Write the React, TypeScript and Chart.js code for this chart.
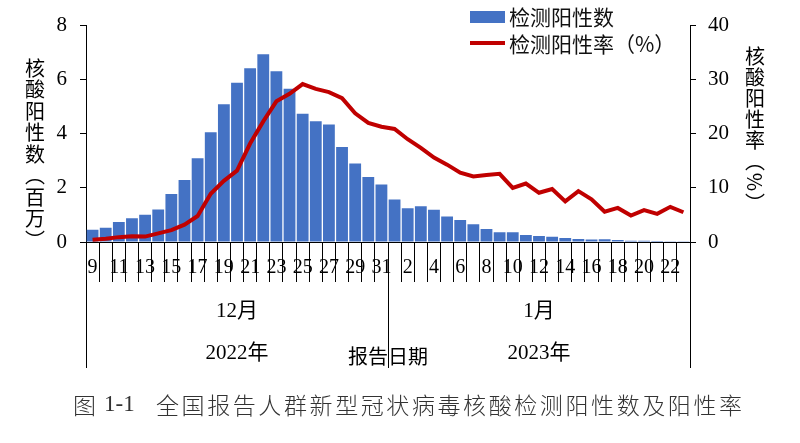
import React, { useEffect, useRef } from "react";
import { Chart, registerables } from "chart.js";

Chart.register(...registerables);

// Report dates: Dec 9–31 (2022), Jan 1–23 (2023)
const dayLabels: number[] = [
  9, 10, 11, 12, 13, 14, 15, 16, 17, 18, 19, 20, 21, 22, 23, 24, 25, 26, 27, 28, 29, 30, 31,
  1, 2, 3, 4, 5, 6, 7, 8, 9, 10, 11, 12, 13, 14, 15, 16, 17, 18, 19, 20, 21, 22, 23,
];

// 检测阳性数 (millions)
const positiveCounts: number[] = [
  0.45, 0.53, 0.74, 0.88, 1.01, 1.2, 1.77, 2.29, 3.1, 4.06, 5.09, 5.89, 6.42, 6.94, 6.31, 5.67, 4.74, 4.46, 4.34, 3.51, 2.9, 2.4, 2.13,
  1.57, 1.25, 1.32, 1.19, 0.94, 0.81, 0.66, 0.48, 0.36, 0.36, 0.26, 0.22, 0.19, 0.15, 0.11, 0.09, 0.1, 0.07, 0.05, 0.05, 0.04, 0.01, 0.01,
];

// 检测阳性率 (%)
const positiveRate: number[] = [
  0.4, 0.6, 0.9, 1.05, 1.0, 1.6, 2.2, 3.2, 4.8, 8.9, 11.3, 13.2, 18.2, 22.3, 26.0, 27.4, 29.2, 28.3, 27.7, 26.6, 23.8, 22.0, 21.3,
  20.9, 19.0, 17.4, 15.6, 14.3, 12.8, 12.1, 12.4, 12.6, 10.0, 10.8, 9.1, 9.8, 7.5, 9.4, 7.9, 5.6, 6.3, 4.9, 5.9, 5.2, 6.5, 5.5,
];

const leftTicks = { min: 0, max: 8, step: 2 };
const rightTicks = { min: 0, max: 40, step: 10 };

const seriesNames = ["检测阳性数", "检测阳性率（%）"];
const leftTitle = "核酸阳性数︵百万︶";
const rightTitle = "核酸阳性率︵%︶";
const monthLabels = ["12月", "1月"];
const yearLabels = ["2022年", "2023年"];
const axisTitle = "报告日期";
const captionHead = "图";
const captionNum = "1-1";
const captionBody = "全国报告人群新型冠状病毒核酸检测阳性数及阳性率";

const BAR_COLOR = "#4472C4";
const LINE_COLOR = "#C00000";
const SERIF = "'Liberation Serif', 'Noto Sans CJK SC', serif";
const SANS = "'Noto Sans CJK SC', 'Noto Sans', sans-serif";

const decorPlugin = {
  id: "decor",
  afterDraw(chart: any) {
    const ctx: CanvasRenderingContext2D = chart.ctx;
    const xs = chart.scales.x;
    const area = chart.chartArea;
    const step = xs.getPixelForValue(1) - xs.getPixelForValue(0);
    const split = xs.getPixelForValue(23) - step / 2;
    ctx.save();

    // long separator lines
    ctx.strokeStyle = "#000";
    ctx.lineWidth = 1;
    [area.left, split, area.right].forEach((px) => {
      const x = Math.round(px) + 0.5;
      ctx.beginPath();
      ctx.moveTo(x, area.bottom);
      ctx.lineTo(x, 368);
      ctx.stroke();
    });

    // month & year labels
    ctx.fillStyle = "#000";
    ctx.textAlign = "center";
    ctx.textBaseline = "middle";
    ctx.font = `21px ${SERIF}`;
    const c1 = (area.left + split) / 2;
    const c2 = (split + area.right) / 2;
    ctx.fillText(monthLabels[0], c1, 311);
    ctx.fillText(monthLabels[1], c2, 311);
    ctx.fillText(yearLabels[0], c1, 353);
    ctx.fillText(yearLabels[1], c2, 353);
    ctx.font = `20px ${SANS}`;
    ctx.fillText(axisTitle, split, 356);

    // vertical axis titles
    const drawVertical = (text: string, x: number, y0: number, pitch: number) => {
      ctx.font = `20px ${SANS}`;
      Array.from(text).forEach((ch, i) => {
        const y = y0 + i * pitch;
        if (ch === "%") {
          ctx.save();
          ctx.translate(x, y);
          ctx.rotate(Math.PI / 2);
          ctx.fillText(ch, 0, 0);
          ctx.restore();
        } else {
          ctx.fillText(ch, x, y);
        }
      });
    };
    drawVertical(leftTitle, 35, 68, 21.5);
    drawVertical(rightTitle, 755, 56, 21);

    // legend
    ctx.fillStyle = BAR_COLOR;
    ctx.fillRect(470, 11, 35, 12);
    ctx.strokeStyle = LINE_COLOR;
    ctx.lineWidth = 4;
    ctx.beginPath();
    ctx.moveTo(470, 43);
    ctx.lineTo(505, 43);
    ctx.stroke();
    ctx.fillStyle = "#111";
    ctx.textAlign = "left";
    ctx.font = `21px ${SANS}`;
    ctx.fillText(seriesNames[0], 509, 17);
    ctx.fillText(seriesNames[1], 509, 44);

    // caption
    ctx.fillStyle = "#333";
    ctx.font = `300 23px ${SANS}`;
    ctx.textAlign = "left";
    ctx.fillText(captionHead, 73, 405);
    ctx.font = `23px ${SERIF}`;
    ctx.fillText(captionNum, 104, 405);
    ctx.font = `300 23px ${SANS}`;
    const chars = Array.from(captionBody);
    const startX = 156;
    const endX = 742;
    const w = ctx.measureText("国").width;
    const pitch = (endX - startX - w) / (chars.length - 1);
    chars.forEach((ch, i) => ctx.fillText(ch, startX + i * pitch, 405));

    ctx.restore();
  },
};

export default function App() {
  const canvasRef = useRef<HTMLCanvasElement | null>(null);

  useEffect(() => {
    if (!canvasRef.current) return;
    const chart = new Chart(canvasRef.current, {
      type: "bar",
      data: {
        labels: dayLabels.map(String),
        datasets: [
          {
            type: "line",
            label: seriesNames[1],
            data: positiveRate,
            yAxisID: "y1",
            borderColor: LINE_COLOR,
            backgroundColor: LINE_COLOR,
            borderWidth: 4,
            pointRadius: 0,
            tension: 0,
            order: 0,
          } as any,
          {
            type: "bar",
            label: seriesNames[0],
            data: positiveCounts,
            yAxisID: "y",
            backgroundColor: BAR_COLOR,
            barPercentage: 0.9,
            categoryPercentage: 1,
            order: 1,
          },
        ],
      },
      options: {
        responsive: false,
        animation: false,
        devicePixelRatio: 1,
        layout: { padding: { top: 16, left: 0, right: 0, bottom: 0 } },
        plugins: { legend: { display: false }, tooltip: { enabled: false } },
        scales: {
          x: {
            offset: true,
            grid: {
              display: true,
              drawOnChartArea: false,
              drawTicks: true,
              tickLength: 40,
              offset: true,
              color: "#000",
            },
            border: { display: true, color: "#000" },
            ticks: {
              autoSkip: false,
              maxRotation: 0,
              minRotation: 0,
              padding: -26,
              color: "#000",
              font: { family: SERIF, size: 20 },
              callback: (_v: any, idx: number) => (idx % 2 === 0 ? String(dayLabels[idx]) : ""),
            },
            afterFit: (s: any) => {
              s.height = 201;
            },
          },
          y: {
            position: "left",
            min: leftTicks.min,
            max: leftTicks.max,
            grid: { drawOnChartArea: false, tickLength: 6, color: "#000" },
            border: { display: true, color: "#000" },
            ticks: {
              stepSize: leftTicks.step,
              padding: 13,
              color: "#000",
              font: { family: SERIF, size: 21 },
            },
            afterFit: (s: any) => {
              s.width = 86;
            },
          },
          y1: {
            position: "right",
            min: rightTicks.min,
            max: rightTicks.max,
            grid: { drawOnChartArea: false, tickLength: 6, color: "#000" },
            border: { display: true, color: "#000" },
            ticks: {
              stepSize: rightTicks.step,
              padding: 12,
              color: "#000",
              font: { family: SERIF, size: 21 },
            },
            afterFit: (s: any) => {
              s.width = 110;
            },
          },
        },
      },
      plugins: [decorPlugin],
    });
    return () => chart.destroy();
  }, []);

  return (
    <div style={{ position: "fixed", left: 0, top: 0, width: 800, height: 443, background: "#fff" }}>
      <canvas ref={canvasRef} width={800} height={443} />
    </div>
  );
}
